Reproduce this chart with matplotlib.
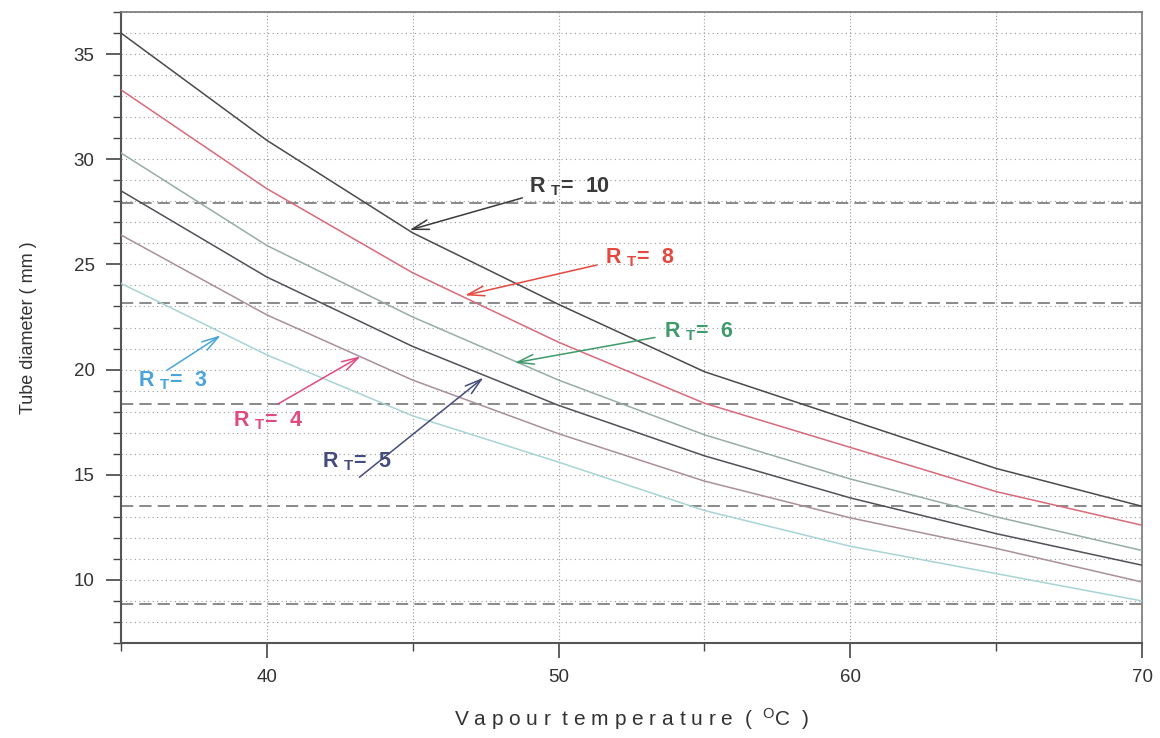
import matplotlib
matplotlib.use('Agg')
import matplotlib.pyplot as plt
from matplotlib.ticker import MultipleLocator

plt.rcParams['font.family'] = ['Liberation Sans', 'DejaVu Sans']
plt.rcParams['mathtext.default'] = 'regular'

# vapour temperature (deg C)
temp = [35, 40, 45, 50, 55, 60, 65, 70]

# tube diameter (mm) for each R_T
d_rt10 = [36.0, 30.9, 26.5, 23.1, 19.9, 17.6, 15.3, 13.5]
d_rt8 = [33.3, 28.6, 24.6, 21.3, 18.4, 16.3, 14.2, 12.6]
d_rt6 = [30.3, 25.9, 22.5, 19.5, 16.9, 14.8, 13.0, 11.4]
d_rt5 = [28.5, 24.4, 21.1, 18.3, 15.9, 13.9, 12.2, 10.7]
d_rt4 = [26.4, 22.6, 19.5, 16.95, 14.7, 12.95, 11.5, 9.9]
d_rt3 = [24.1, 20.7, 17.8, 15.6, 13.3, 11.6, 10.3, 9.0]

# horizontal dashed reference levels
ref_levels = [27.9, 23.15, 18.35, 13.5, 8.85]

curves = [
    (d_rt10, '#4a4a4a'),
    (d_rt8, '#d86a7a'),
    (d_rt6, '#98aca6'),
    (d_rt5, '#505058'),
    (d_rt4, '#a8909a'),
    (d_rt3, '#a8d4d4'),
]

# label text, text position (left, centre), arrow start, arrow tip, colour
labels = [
    ('R $_T$=  10', (49.0, 28.7), (48.85, 28.2), (44.8, 26.6), '#3a3a3a'),
    ('R $_T$=  8', (51.6, 25.3), (51.4, 25.0), (46.7, 23.5), '#e5483e'),
    ('R $_T$=  6', (53.6, 21.8), (53.4, 21.55), (48.4, 20.3), '#3f9a6c'),
    ('R $_T$=  5', (41.9, 15.6), (43.1, 14.8), (47.5, 19.7), '#454b7a'),
    ('R $_T$=  4', (38.85, 17.55), (40.3, 18.3), (43.3, 20.7), '#e04a7c'),
    ('R $_T$=  3', (35.6, 19.45), (36.5, 19.9), (38.5, 21.7), '#4aa4dc'),
]

fig = plt.figure(figsize=(11.6, 7.38), dpi=100)
ax = fig.add_axes([0.1043, 0.1287, 0.8802, 0.855])

ax.set_xlim(35, 70)
ax.set_ylim(7, 37)
ax.xaxis.set_major_locator(MultipleLocator(10))
ax.xaxis.set_minor_locator(MultipleLocator(5))
ax.yaxis.set_major_locator(MultipleLocator(5))
ax.yaxis.set_minor_locator(MultipleLocator(1))
ax.set_yticks([10, 15, 20, 25, 30, 35])

ax.grid(which='both', axis='y', linestyle=(0, (1, 3)), color='#9a9a9a', linewidth=0.8)
ax.grid(which='both', axis='x', linestyle=(0, (1, 2)), color='#9a9a9a', linewidth=0.8)
ax.set_axisbelow(True)

for lvl in ref_levels:
    ax.axhline(lvl, color='#6a6a6a', linestyle=(0, (8, 4)), linewidth=1.1, zorder=2)

for d, c in curves:
    ax.plot(temp, d, color=c, linewidth=1.1, zorder=3)

for txt, pos, start, tip, c in labels:
    ax.text(pos[0], pos[1], txt, color=c, fontsize=15.5, fontweight='bold',
            va='center', zorder=5)
    ax.annotate('', xy=tip, xytext=start,
                arrowprops=dict(arrowstyle='->,head_length=1.2,head_width=0.35',
                                color=c, linewidth=1.1), zorder=4)

ax.tick_params(which='major', direction='out', length=11, width=1.2, colors='#444444',
               labelsize=13.5, pad=8)
ax.tick_params(which='minor', direction='out', length=6, width=1.0, colors='#444444')
for lab in ax.get_xticklabels() + ax.get_yticklabels():
    lab.set_color('#333333')

for side in ['left', 'bottom']:
    ax.spines[side].set_color('#555555')
    ax.spines[side].set_linewidth(1.5)
for side in ['top', 'right']:
    ax.spines[side].set_color('#777777')
    ax.spines[side].set_linewidth(1.2)

ax.set_xlabel('V a p o u r  t e m p e r a t u r e  (  $^{O}$C  )', fontsize=15,
              color='#333333', labelpad=14)
ax.set_ylabel('Tube diameter ( mm )', fontsize=13, color='#333333', labelpad=26)

fig.savefig('out.png', dpi=100)
